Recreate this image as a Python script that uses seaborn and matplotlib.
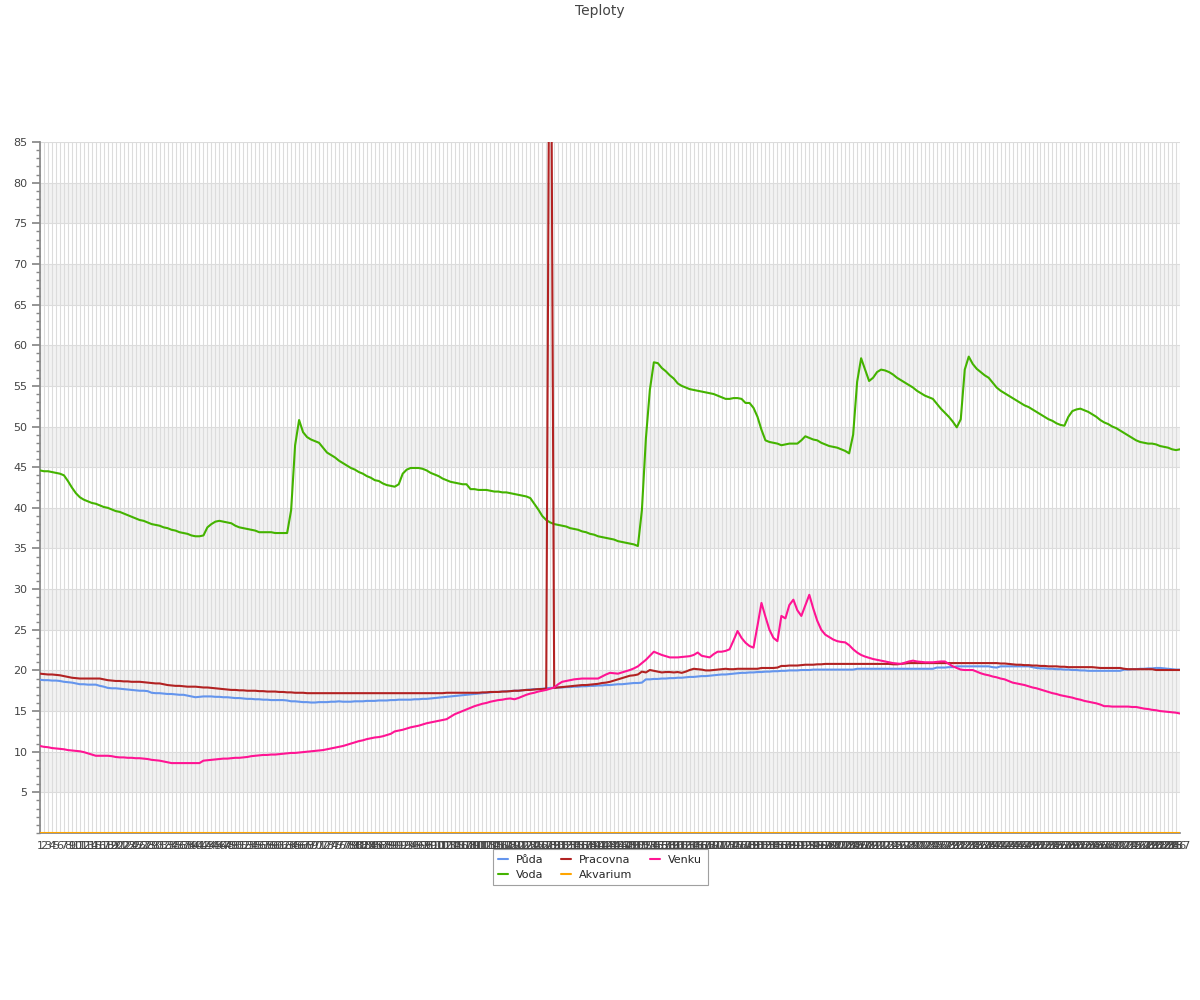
import matplotlib
matplotlib.use("Agg")
import matplotlib.pyplot as plt
from matplotlib.ticker import MultipleLocator
from matplotlib.lines import Line2D
import numpy as np
import pandas as pd
import seaborn as sns

title = "Teploty"
series_names = ["Půda", "Voda", "Pracovna", "Akvarium", "Venku"]
colors = {"Půda": "#6495ED", "Voda": "#44B300", "Pracovna": "#B22222",
          "Akvarium": "#FFA500", "Venku": "#FF1493"}

voda = [44.6, 44.5, 44.5, 44.4, 44.3, 44.2, 44.0, 43.3, 42.5, 41.8,
        41.3, 41.0, 40.8, 40.6, 40.5, 40.3, 40.1, 40.0, 39.8, 39.6,
        39.5, 39.3, 39.1, 38.9, 38.7, 38.5, 38.4, 38.2, 38.0, 37.9,
        37.8, 37.6, 37.5, 37.3, 37.2, 37.0, 36.9, 36.8, 36.6, 36.5,
        36.5, 36.6, 37.6, 38.0, 38.3, 38.4, 38.3, 38.2, 38.1, 37.8,
        37.6, 37.5, 37.4, 37.3, 37.2, 37.0, 37.0, 37.0, 37.0, 36.9,
        36.9, 36.9, 36.9, 39.7, 47.7, 50.8, 49.3, 48.7, 48.4, 48.2,
        48.0, 47.4, 46.8, 46.5, 46.2, 45.8, 45.5, 45.2, 44.9, 44.7,
        44.4, 44.2, 43.9, 43.7, 43.4, 43.3, 43.0, 42.8, 42.7, 42.6,
        42.9, 44.2, 44.7, 44.9, 44.9, 44.9, 44.8, 44.6, 44.3, 44.1,
        43.9, 43.6, 43.4, 43.2, 43.1, 43.0, 42.9, 42.9, 42.3, 42.3,
        42.2, 42.2, 42.2, 42.1, 42.0, 42.0, 41.9, 41.9, 41.8, 41.7,
        41.6, 41.5, 41.4, 41.2, 40.5, 39.8, 39.0, 38.5, 38.2, 38.0,
        37.9, 37.8, 37.7, 37.5, 37.4, 37.3, 37.1, 37.0, 36.8, 36.7,
        36.5, 36.4, 36.3, 36.2, 36.1, 35.9, 35.8, 35.7, 35.6, 35.5,
        35.3, 39.7, 48.5, 54.5, 57.9, 57.8, 57.2, 56.8, 56.3, 55.9,
        55.3, 55.0, 54.8, 54.6, 54.5, 54.4, 54.3, 54.2, 54.1, 54.0,
        53.8, 53.6, 53.4, 53.4, 53.5, 53.5, 53.4, 52.9, 52.9, 52.3,
        51.2, 49.6, 48.3, 48.1, 48.0, 47.9, 47.7, 47.8, 47.9, 47.9,
        47.9, 48.3, 48.8, 48.6, 48.4, 48.3, 48.0, 47.8, 47.6, 47.5,
        47.4, 47.2, 47.0, 46.7, 49.0, 55.5, 58.4, 57.0, 55.6, 56.0,
        56.7, 57.0, 56.9, 56.7, 56.4, 56.0, 55.7, 55.4, 55.1, 54.8,
        54.4, 54.1, 53.8, 53.6, 53.4, 52.8, 52.2, 51.7, 51.2, 50.6,
        49.9, 50.9, 57.0, 58.6, 57.7, 57.1, 56.7, 56.3, 56.0, 55.4,
        54.8, 54.4, 54.1, 53.8, 53.5, 53.2, 52.9, 52.6, 52.4, 52.1,
        51.8, 51.5, 51.2, 50.9, 50.7, 50.4, 50.2, 50.1, 51.2, 51.9,
        52.1, 52.2, 52.0, 51.8, 51.5, 51.2, 50.8, 50.5, 50.3, 50.0,
        49.8, 49.5, 49.2, 48.9, 48.6, 48.3, 48.1, 48.0, 47.9, 47.9,
        47.8, 47.6, 47.5, 47.4, 47.2, 47.1, 47.2]

pracovna = [19.6, 19.55, 19.5, 19.5, 19.45, 19.4, 19.3, 19.2, 19.1, 19.05,
            19.0, 19.0, 19.0, 19.0, 19.0, 19.0, 18.9, 18.8, 18.75, 18.7,
            18.7, 18.65, 18.65, 18.6, 18.6, 18.6, 18.55, 18.5, 18.45, 18.4,
            18.4, 18.3, 18.2, 18.15, 18.1, 18.1, 18.05, 18.0, 18.0, 18.0,
            17.95, 17.9, 17.9, 17.85, 17.8, 17.75, 17.7, 17.65, 17.6, 17.6,
            17.55, 17.55, 17.5, 17.5, 17.5, 17.45, 17.45, 17.4, 17.4, 17.4,
            17.35, 17.35, 17.3, 17.3, 17.25, 17.25, 17.25, 17.2, 17.2, 17.2,
            17.2, 17.2, 17.2, 17.2, 17.2, 17.2, 17.2, 17.2, 17.2, 17.2,
            17.2, 17.2, 17.2, 17.2, 17.2, 17.2, 17.2, 17.2, 17.2, 17.2,
            17.2, 17.2, 17.2, 17.2, 17.2, 17.2, 17.2, 17.2, 17.2, 17.2,
            17.2, 17.2, 17.25, 17.25, 17.25, 17.25, 17.25, 17.25, 17.25, 17.25,
            17.25, 17.3, 17.3, 17.35, 17.35, 17.35, 17.4, 17.4, 17.45, 17.5,
            17.5, 17.55, 17.6, 17.6, 17.65, 17.7, 17.7, 17.75, 125.0, 17.85,
            17.9, 17.95, 18.0, 18.05, 18.1, 18.15, 18.2, 18.2, 18.25, 18.3,
            18.35, 18.45, 18.5, 18.6, 18.75, 18.9, 19.05, 19.2, 19.35, 19.4,
            19.5, 19.85, 19.75, 20.05, 19.95, 19.85, 19.75, 19.8, 19.8, 19.75,
            19.8, 19.7, 19.85, 20.05, 20.2, 20.15, 20.1, 20.0, 20.0, 20.05,
            20.1, 20.15, 20.2, 20.15, 20.15, 20.2, 20.2, 20.2, 20.2, 20.2,
            20.2, 20.3, 20.3, 20.3, 20.3, 20.35, 20.55, 20.55, 20.6, 20.6,
            20.6, 20.65, 20.7, 20.7, 20.7, 20.75, 20.75, 20.8, 20.8, 20.8,
            20.8, 20.8, 20.8, 20.8, 20.8, 20.8, 20.8, 20.8, 20.8, 20.8,
            20.8, 20.8, 20.8, 20.8, 20.75, 20.75, 20.8, 20.85, 20.9, 20.9,
            20.9, 20.9, 20.9, 20.9, 20.9, 20.9, 20.9, 20.9, 20.9, 20.9,
            20.9, 20.9, 20.9, 20.9, 20.9, 20.9, 20.9, 20.9, 20.9, 20.9,
            20.9, 20.85, 20.85, 20.8, 20.75, 20.7, 20.7, 20.65, 20.65, 20.6,
            20.6, 20.55, 20.55, 20.5, 20.5, 20.5, 20.45, 20.45, 20.4, 20.4,
            20.4, 20.4, 20.4, 20.4, 20.4, 20.35, 20.3, 20.3, 20.3, 20.3,
            20.3, 20.3, 20.2, 20.15, 20.15, 20.15, 20.15, 20.15, 20.15, 20.15,
            20.05, 20.05, 20.05, 20.05, 20.05, 20.05, 20.05]

puda = [18.85, 18.8, 18.8, 18.75, 18.75, 18.7, 18.6, 18.55, 18.5, 18.4,
        18.3, 18.3, 18.25, 18.25, 18.25, 18.1, 18.0, 17.85, 17.8, 17.8,
        17.75, 17.7, 17.65, 17.6, 17.55, 17.5, 17.5, 17.45, 17.25, 17.2,
        17.2, 17.15, 17.1, 17.1, 17.05, 17.0, 17.0, 16.9, 16.8, 16.7,
        16.75, 16.8, 16.8, 16.8, 16.75, 16.75, 16.7, 16.7, 16.65, 16.6,
        16.6, 16.55, 16.5, 16.5, 16.45, 16.45, 16.4, 16.4, 16.35, 16.35,
        16.35, 16.35, 16.3, 16.2, 16.2, 16.15, 16.1, 16.1, 16.05, 16.05,
        16.1, 16.1, 16.1, 16.15, 16.15, 16.2, 16.15, 16.15, 16.15, 16.2,
        16.2, 16.2, 16.25, 16.25, 16.25, 16.3, 16.3, 16.3, 16.35, 16.35,
        16.4, 16.4, 16.4, 16.4, 16.45, 16.45, 16.5, 16.5, 16.55, 16.6,
        16.65, 16.7, 16.75, 16.8, 16.85, 16.9, 16.95, 17.0, 17.05, 17.1,
        17.15, 17.2, 17.25, 17.3, 17.35, 17.35, 17.4, 17.45, 17.45, 17.5,
        17.5, 17.55, 17.6, 17.65, 17.7, 17.7, 17.75, 17.8, 17.85, 17.85,
        17.9, 17.9, 17.95, 17.95, 18.0, 18.0, 18.05, 18.05, 18.1, 18.1,
        18.15, 18.15, 18.2, 18.2, 18.25, 18.3, 18.3, 18.35, 18.4, 18.45,
        18.45, 18.5, 18.9, 18.9, 18.95, 18.95, 19.0, 19.0, 19.05, 19.05,
        19.1, 19.1, 19.15, 19.2, 19.2, 19.25, 19.3, 19.3, 19.35, 19.4,
        19.45, 19.5, 19.5, 19.55, 19.6, 19.65, 19.7, 19.7, 19.75, 19.75,
        19.8, 19.8, 19.85, 19.85, 19.9, 19.9, 19.95, 19.95, 20.0, 20.0,
        20.0, 20.05, 20.05, 20.05, 20.1, 20.1, 20.1, 20.1, 20.1, 20.1,
        20.1, 20.1, 20.1, 20.1, 20.1, 20.2, 20.2, 20.2, 20.2, 20.2,
        20.2, 20.2, 20.2, 20.2, 20.2, 20.2, 20.2, 20.2, 20.2, 20.2,
        20.2, 20.2, 20.2, 20.2, 20.2, 20.35, 20.35, 20.35, 20.4, 20.4,
        20.5, 20.5, 20.5, 20.5, 20.5, 20.5, 20.5, 20.5, 20.5, 20.4,
        20.35, 20.5, 20.5, 20.5, 20.5, 20.5, 20.5, 20.5, 20.5, 20.4,
        20.3, 20.25, 20.25, 20.2, 20.2, 20.15, 20.15, 20.1, 20.1, 20.05,
        20.05, 20.0, 20.0, 19.95, 19.95, 19.95, 19.95, 19.95, 19.95, 19.95,
        19.95, 19.95, 20.1, 20.1, 20.15, 20.15, 20.2, 20.2, 20.25, 20.25,
        20.3, 20.3, 20.25, 20.2, 20.15, 20.1, 20.1]

venku = [10.7, 10.6, 10.55, 10.45, 10.4, 10.35, 10.3, 10.2, 10.15, 10.1,
         10.05, 9.95, 9.8, 9.65, 9.5, 9.5, 9.5, 9.5, 9.45, 9.35,
         9.3, 9.3, 9.25, 9.25, 9.2, 9.2, 9.15, 9.1, 9.0, 8.95,
         8.9, 8.8, 8.7, 8.6, 8.6, 8.6, 8.6, 8.6, 8.6, 8.6,
         8.6, 8.9, 8.95, 9.0, 9.05, 9.1, 9.15, 9.15, 9.2, 9.25,
         9.25, 9.3, 9.35, 9.45, 9.5, 9.55, 9.6, 9.6, 9.65, 9.65,
         9.7, 9.75, 9.8, 9.85, 9.85, 9.9, 9.95, 10.0, 10.05, 10.1,
         10.15, 10.2, 10.3, 10.4, 10.5, 10.6, 10.7, 10.85, 11.0, 11.15,
         11.3, 11.4, 11.55, 11.65, 11.75, 11.8, 11.9, 12.05, 12.2, 12.5,
         12.6, 12.7, 12.85, 13.0, 13.1, 13.2, 13.35, 13.5, 13.6, 13.7,
         13.8, 13.9, 14.0, 14.3, 14.6, 14.8, 15.0, 15.2, 15.4, 15.6,
         15.75, 15.9, 16.0, 16.15, 16.25, 16.35, 16.4, 16.5, 16.55, 16.45,
         16.6, 16.8, 17.0, 17.15, 17.25, 17.4, 17.5, 17.6, 17.75, 17.9,
         18.3, 18.6, 18.7, 18.8, 18.9, 18.95, 19.0, 19.0, 19.0, 19.0,
         19.0, 19.25, 19.5, 19.7, 19.65, 19.6, 19.75, 19.9, 20.05, 20.25,
         20.5, 20.9, 21.3, 21.8, 22.3, 22.1, 21.9, 21.75, 21.6, 21.6,
         21.6, 21.65, 21.7, 21.75, 21.9, 22.2, 21.8, 21.7, 21.6, 22.0,
         22.3, 22.3, 22.4, 22.6, 23.7, 24.85, 24.0, 23.4, 23.0, 22.8,
         25.5, 28.3, 26.6, 25.0, 24.0, 23.6, 26.7, 26.4, 28.05, 28.7,
         27.4, 26.7, 28.0, 29.3, 27.6, 26.1, 25.0, 24.4, 24.1, 23.8,
         23.6, 23.5, 23.45, 23.1, 22.6, 22.2, 21.9, 21.7, 21.55, 21.4,
         21.3, 21.2, 21.1, 21.0, 20.9, 20.85, 20.8, 20.95, 21.1, 21.2,
         21.1, 21.05, 21.0, 21.0, 21.0, 21.05, 21.1, 21.1, 20.8, 20.5,
         20.3, 20.1, 20.05, 20.05, 20.05, 19.85, 19.65, 19.5, 19.4, 19.25,
         19.15, 19.0, 18.9, 18.7, 18.5, 18.4, 18.3, 18.2, 18.05, 17.9,
         17.8, 17.65, 17.5, 17.35, 17.2, 17.1, 16.95, 16.85, 16.75, 16.65,
         16.5, 16.4, 16.25, 16.15, 16.05, 15.95, 15.8, 15.6, 15.6, 15.55,
         15.55, 15.55, 15.55, 15.55, 15.5, 15.5, 15.4, 15.3, 15.25, 15.15,
         15.1, 15.0, 14.95, 14.9, 14.85, 14.8, 14.7]

akvarium = [0.0] * len(voda)

x_labels = [str(i + 1) for i in range(len(voda))]

values = {"Půda": puda, "Voda": voda, "Pracovna": pracovna,
          "Akvarium": akvarium, "Venku": venku}
frames = []
for name in series_names:
    frames.append(pd.DataFrame({"idx": np.arange(len(values[name])),
                                "value": values[name], "serie": name}))
df = pd.concat(frames, ignore_index=True)

sns.set_theme(style="white")
plt.rcParams['font.family'] = ['DejaVu Sans']

fig = plt.figure(figsize=(12, 10), dpi=100)
ax = fig.add_axes([40 / 1200, 1 - 833 / 1000, 1140 / 1200, 691 / 1000])

for lo in range(5, 85, 10):
    ax.axhspan(lo, lo + 5, color="#f2f2f2", zorder=0, lw=0)

draw_order = ["Voda", "Půda", "Pracovna", "Venku", "Akvarium"]
sns.lineplot(data=df, x="idx", y="value", hue="serie", hue_order=draw_order,
             palette=colors, linewidth=1.5, ax=ax, legend=False, zorder=3,
             estimator=None, sort=False)

ax.set_xlim(0, len(voda) - 1)
ax.set_ylim(0, 85)
ax.set_xticks(np.arange(len(voda)))
ax.set_xticklabels(x_labels, fontsize=8, color="#444444")
ax.set_yticks(np.arange(5, 86, 5))
ax.set_yticklabels([str(v) for v in range(5, 86, 5)], fontsize=8, color="#444444")
ax.yaxis.set_minor_locator(MultipleLocator(1))
ax.tick_params(axis="x", length=0, pad=6)
ax.tick_params(axis="y", which="major", length=6, color="#888888", left=True, pad=3)
ax.tick_params(axis="y", which="minor", length=3, color="#888888", left=True)
ax.grid(True, axis="x", color="#dcdcdc", linewidth=0.8, zorder=1)
ax.grid(True, axis="y", which="major", color="#dcdcdc", linewidth=0.8, zorder=1)
ax.set_axisbelow(True)
ax.set_xlabel("")
ax.set_ylabel("")
for s in ["top", "right"]:
    ax.spines[s].set_visible(False)
ax.spines["left"].set_color("#888888")
ax.spines["bottom"].set_color("#888888")

fig.text(0.5, 1 - 11 / 1000, title, ha="center", va="center", fontsize=10, color="#444444")

handles = [Line2D([0], [0], color=colors[n], lw=1.5) for n in series_names]
leg = fig.legend(handles, series_names, loc="upper center", ncol=3,
                 bbox_to_anchor=(0.5, 1 - 849 / 1000), borderaxespad=0.0,
                 fontsize=8, frameon=True, fancybox=False, edgecolor="#888888",
                 handlelength=0.9, handletextpad=0.7, columnspacing=1.6,
                 borderpad=0.5, labelspacing=0.45)
leg.get_frame().set_linewidth(0.8)

fig.savefig("out.png", dpi=100)
